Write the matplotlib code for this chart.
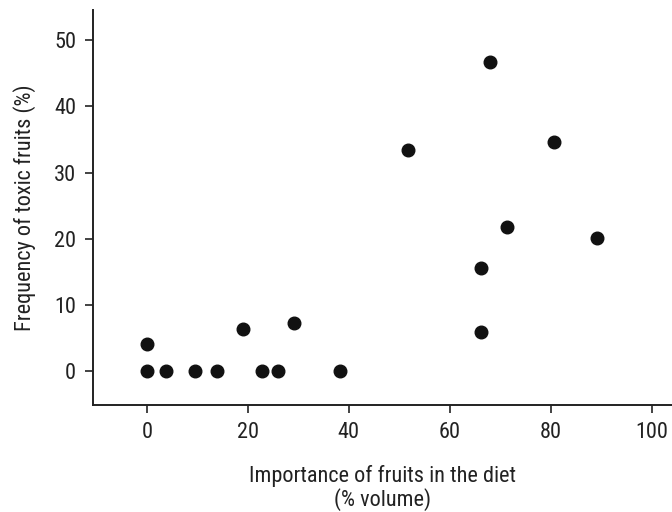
import matplotlib
matplotlib.use("Agg")
import matplotlib.pyplot as plt

plt.rcParams['font.family'] = ['Liberation Sans Narrow', 'Roboto Condensed',
                               'DejaVu Sans Condensed', 'DejaVu Sans']

# fruit importance in the diet (% volume) vs. frequency of toxic fruits (%)
importance = [0, 0, 3.8, 9.5, 13.9, 19, 22.8, 26, 29.1, 38.2,
              51.8, 67.9, 80.6, 71.4, 66.1, 66.1, 89.1]
toxic_freq = [4.1, 0, 0, 0, 0, 6.3, 0, 0, 7.3, 0,
              33.4, 46.7, 34.6, 21.8, 15.6, 5.9, 20.1]

xticks = [0, 20, 40, 60, 80, 100]
yticks = [0, 10, 20, 30, 40, 50]

fig = plt.figure(figsize=(6.72, 5.12), dpi=100)
ax = fig.add_axes([0.138, 0.209, 0.862, 0.771])

ax.scatter(importance, toxic_freq, s=82, color='#111111', zorder=3)

ax.set_xlim(-10.7, 104)
ax.set_ylim(-5.1, 54.5)
ax.set_xticks(xticks)
ax.set_yticks(yticks)

for side in ['top', 'right']:
    ax.spines[side].set_visible(False)
for side in ['left', 'bottom']:
    ax.spines[side].set_linewidth(1.4)
    ax.spines[side].set_color('#222222')

ax.tick_params(direction='out', length=6, width=1.2, color='#222222',
               labelsize=16, labelcolor='#222222', pad=6)

ax.set_ylabel('Frequency of toxic fruits (%)', fontsize=16, color='#222222', labelpad=13)
ax.set_xlabel('Importance of fruits in the diet\n(% volume)', fontsize=16,
              color='#222222', labelpad=16, linespacing=1.05)

fig.savefig('out.png', dpi=100)
